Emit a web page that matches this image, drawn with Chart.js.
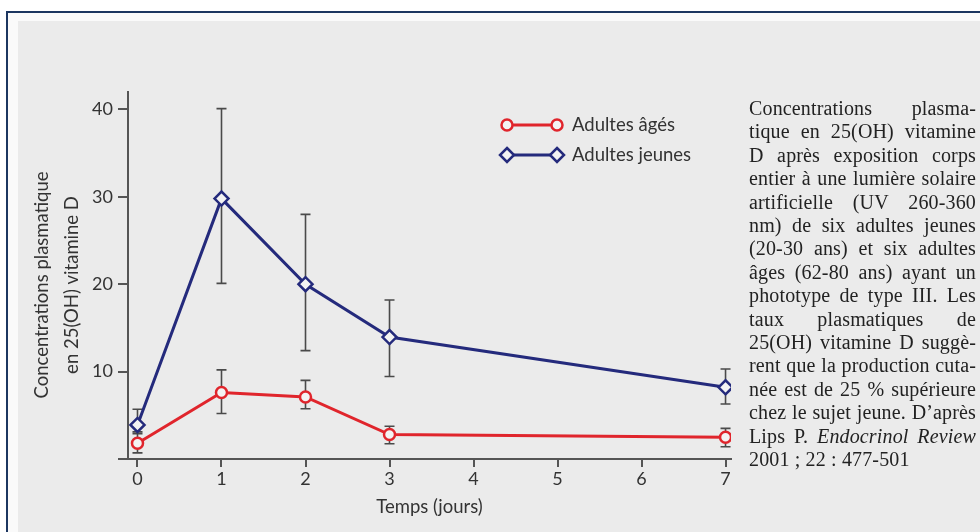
<!DOCTYPE html>
<html><head><meta charset="utf-8">
<script src="https://cdn.jsdelivr.net/npm/chart.js@4/dist/chart.umd.min.js"></script>
<style>
html,body{margin:0;padding:0;width:980px;height:532px;overflow:hidden;background:#fff;}
#frame{position:absolute;left:6px;top:11px;width:1000px;height:600px;border:2px solid #1c3660;background:#fafafa;}
#inner{position:absolute;left:18px;top:21px;width:1000px;height:600px;background:#ebebeb;}
#c{position:absolute;left:0;top:0;}
#cap{position:absolute;left:749px;top:97px;width:227px;font-family:"Liberation Serif",serif;font-size:20px;letter-spacing:0.15px;line-height:23.4px;color:#222;}
#cap .l{text-align:justify;text-align-last:justify;}
#cap .last{text-align:left;text-align-last:left;}
</style></head>
<body>
<div id="frame"></div><div id="inner"></div>
<canvas id="c" width="980" height="532"></canvas>
<div id="cap">
<div class="l">Concentrations plasma-</div>
<div class="l">tique en 25(OH) vitamine</div>
<div class="l">D après exposition corps</div>
<div class="l">entier à une lumière solaire</div>
<div class="l">artificielle (UV 260-360</div>
<div class="l">nm) de six adultes jeunes</div>
<div class="l">(20-30 ans) et six adultes</div>
<div class="l">âges (62-80 ans) ayant un</div>
<div class="l">phototype de type III. Les</div>
<div class="l">taux plasmatiques de</div>
<div class="l">25(OH) vitamine D suggè-</div>
<div class="l">rent que la production cuta-</div>
<div class="l">née est de 25 % supérieure</div>
<div class="l">chez le sujet jeune. D’après</div>
<div class="l">Lips P. <i>Endocrinol Review</i></div>
<div class="l last">2001 ; 22 : 477-501</div>
</div>
<script>
const days = [0, 1, 2, 3, 7];
const ages = [1.8, 7.6, 7.1, 2.8, 2.5];
const agesLow = [0.7, 5.2, 5.75, 1.75, 1.4];
const agesHigh = [2.9, 10.2, 9.0, 3.75, 3.5];
const jeunes = [3.9, 29.8, 20.0, 13.95, 8.2];
const jeunesLow = [3.1, 20.1, 12.4, 9.45, 6.3];
const jeunesHigh = [5.7, 40.1, 28.0, 18.2, 10.3];
const seriesNames = ['Adultes âgés', 'Adultes jeunes'];
const xTitle = 'Temps (jours)';
const yTitle = ['Concentrations plasmatique    ', 'en 25(OH) vitamine D    '];

const RED = '#e0252c', BLUE = '#242a7c', FILL = '#f3f3f3';
const FONT = 'Lato';

const errs = [[agesLow, agesHigh], [jeunesLow, jeunesHigh]];

const errorBars = {
  id: 'errorBars',
  beforeDatasetsDraw(chart) {
    const {ctx, scales: {x, y}} = chart;
    ctx.save();
    ctx.strokeStyle = '#4a4a4a';
    ctx.lineWidth = 1.6;
    errs.forEach(([lo, hi]) => {
      days.forEach((d, i) => {
        const px = x.getPixelForValue(d);
        const p1 = y.getPixelForValue(lo[i]);
        const p2 = y.getPixelForValue(hi[i]);
        ctx.beginPath();
        ctx.moveTo(px, p1); ctx.lineTo(px, p2);
        ctx.moveTo(px - 5, p1); ctx.lineTo(px + 5, p1);
        ctx.moveTo(px - 5, p2); ctx.lineTo(px + 5, p2);
        ctx.stroke();
      });
    });
    ctx.restore();
  }
};

function marker(ctx, style, x, y, r, color) {
  ctx.beginPath();
  if (style === 'circle') ctx.arc(x, y, r, 0, Math.PI * 2);
  else { ctx.moveTo(x, y - r); ctx.lineTo(x + r, y); ctx.lineTo(x, y + r); ctx.lineTo(x - r, y); ctx.closePath(); }
  ctx.fillStyle = FILL; ctx.fill();
  ctx.lineWidth = 2.5; ctx.strokeStyle = color; ctx.stroke();
}

const legendPlugin = {
  id: 'customLegend',
  afterDraw(chart) {
    const ctx = chart.ctx;
    ctx.save();
    chart.data.datasets.forEach((ds, i) => {
      const yy = 125 + i * 30;
      ctx.beginPath(); ctx.moveTo(507, yy); ctx.lineTo(557, yy);
      ctx.strokeStyle = ds.borderColor; ctx.lineWidth = 3; ctx.stroke();
      const r = ds.pointStyle === 'circle' ? 5.5 : 7;
      marker(ctx, ds.pointStyle, 507, yy, r, ds.borderColor);
      marker(ctx, ds.pointStyle, 557, yy, r, ds.borderColor);
      ctx.fillStyle = '#333';
      ctx.font = '18.5px ' + FONT;
      ctx.textBaseline = 'middle';
      ctx.fillText(ds.label, 572, yy);
    });
    ctx.restore();
  }
};

new Chart(document.getElementById('c'), {
  type: 'line',
  data: {
    datasets: [
      { label: seriesNames[0], data: days.map((d, i) => ({x: d, y: ages[i]})),
        borderColor: RED, backgroundColor: FILL, borderWidth: 3,
        pointStyle: 'circle', pointRadius: 5.5, pointBorderWidth: 2.5,
        pointBackgroundColor: FILL, pointBorderColor: RED, tension: 0 },
      { label: seriesNames[1], data: days.map((d, i) => ({x: d, y: jeunes[i]})),
        borderColor: BLUE, backgroundColor: FILL, borderWidth: 3,
        pointStyle: 'rectRot', pointRadius: 7, pointBorderWidth: 2.5,
        pointBackgroundColor: FILL, pointBorderColor: BLUE, tension: 0 }
    ]
  },
  options: {
    responsive: false,
    animation: false,
    events: [],
    layout: { padding: { top: 92, right: 249, bottom: 0, left: 0 } },
    plugins: { legend: { display: false }, tooltip: { enabled: false } },
    scales: {
      x: {
        type: 'linear', min: -0.113, max: 7.065,
        afterFit(s) { s.height = 73; },
        border: { display: true, color: '#555', width: 2 },
        grid: { drawOnChartArea: false, drawTicks: true, tickLength: 8, color: '#555', lineWidth: 2 },
        ticks: { stepSize: 1, includeBounds: false, padding: 1, color: '#333', font: { family: FONT, size: 18 } },
        title: { display: true, text: xTitle, color: '#333', font: { family: FONT, size: 18.5, lineHeight: 1.2 }, padding: { top: 0, bottom: 14 } }
      },
      y: {
        min: 0, max: 42,
        afterFit(s) { s.width = 128; },
        border: { display: true, color: '#555', width: 2 },
        grid: { drawOnChartArea: false, drawTicks: true, tickLength: 10, color: '#555', lineWidth: 2 },
        ticks: { stepSize: 10, includeBounds: false, padding: 5, color: '#333', font: { family: FONT, size: 18 },
                 callback: v => v === 0 ? '' : v },
        title: { display: true, text: yTitle, color: '#333', font: { family: FONT, size: 18.5, lineHeight: 1.62 }, padding: { top: 27, bottom: 0 } }
      }
    }
  },
  plugins: [errorBars, legendPlugin]
});
</script>
</body></html>
